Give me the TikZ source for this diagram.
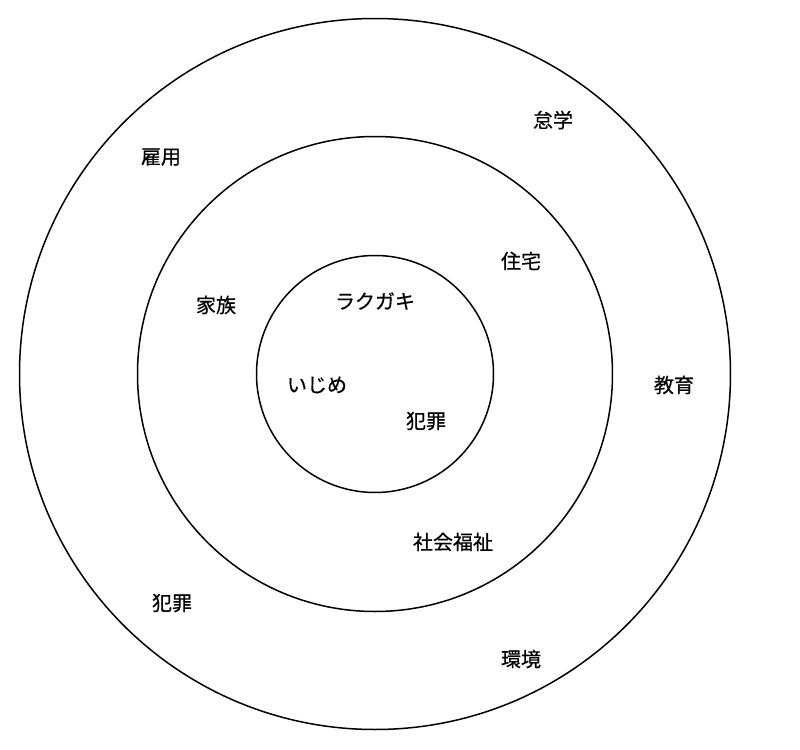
\documentclass[tikz,border=0pt]{standalone}
\usepackage{fontspec}
\setmainfont{Noto Sans CJK JP}[FakeBold=0.5]

\tikzstyle{ring} = [circle, draw, line width=0.75pt, inner sep=0pt]
\tikzstyle{word} = [inner sep=0pt, font=\fontsize{10pt}{12pt}\selectfont]

\begin{document}
\begin{tikzpicture}[x=0.5pt,y=-0.5pt]
\useasboundingbox (0,0) rectangle (800,750);
\coordinate (c) at (375,374);
\node [ring, minimum size=355.5pt] (outer) at (c) {};
\node [ring, minimum size=237.5pt] (middle) at (c) {};
\node [ring, minimum size=118.5pt] (inner) at (c) {};
% inner ring
\node [word] (rakugaki) at (375,301) {ラクガキ};
\node [word] (ijime) at (317,385) {いじめ};
\node [word] (hanzai1) at (426,421) {犯罪};
% middle ring
\node [word] (kazoku) at (216,305) {家族};
\node [word] (jutaku) at (521,261) {住宅};
\node [word] (fukushi) at (453,542) {社会福祉};
% outer ring
\node [word] (taigaku) at (553,120) {怠学};
\node [word] (koyo) at (161,157) {雇用};
\node [word] (kyoiku) at (674,385) {教育};
\node [word] (hanzai2) at (172,603) {犯罪};
\node [word] (kankyo) at (521,659) {環境};
\end{tikzpicture}
\end{document}
